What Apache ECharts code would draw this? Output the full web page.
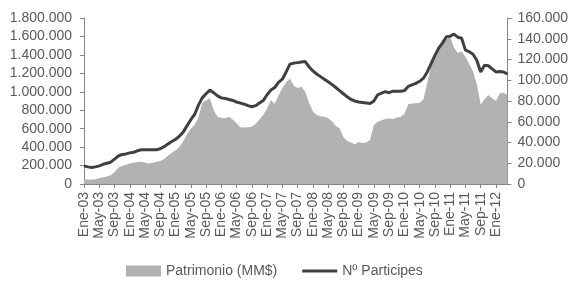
<!DOCTYPE html>
<html>
<head>
<meta charset="utf-8">
<script src="https://cdn.jsdelivr.net/npm/echarts@6/dist/echarts.min.js"></script>
<style>
  html, body { margin: 0; padding: 0; background: #fff; }
  #main { width: 571px; height: 283px; }
</style>
</head>
<body>
<div id="main"></div>
<script>
// months Ene-03 .. Abr-12
const monthNames = ['Ene', 'Feb', 'Mar', 'Abr', 'May', 'Jun', 'Jul', 'Ago', 'Sep', 'Oct', 'Nov', 'Dic'];
const years = ['03', '04', '05', '06', '07', '08', '09', '10', '11', '12'];
const lastYearMonths = 4;

// Patrimonio (MM$), left axis
const patrimonio = [
  50000, 48000, 48000, 52000, 62000, 72000, 80000, 95000, 130000, 175000, 195000, 210000,
  222000, 230000, 238000, 240000, 232000, 222000, 230000, 240000, 250000, 270000, 305000, 340000,
  365000, 400000, 460000, 540000, 600000, 640000, 720000, 880000, 905000, 930000, 800000, 730000,
  715000, 712000, 728000, 700000, 660000, 615000, 612000, 615000, 622000, 650000, 700000, 750000,
  820000, 910000, 870000, 960000, 1040000, 1100000, 1145000, 1065000, 1040000, 1055000, 1000000, 880000,
  790000, 748000, 735000, 730000, 715000, 680000, 630000, 605000, 510000, 465000, 450000, 430000,
  455000, 445000, 450000, 480000, 640000, 675000, 690000, 705000, 712000, 705000, 722000, 730000,
  760000, 865000, 872000, 876000, 880000, 920000, 1100000, 1280000, 1400000, 1470000, 1525000, 1570000,
  1590000, 1480000, 1420000, 1440000, 1380000, 1300000, 1220000, 1080000, 860000, 920000, 965000, 930000,
  900000, 985000, 990000, 965000
];

// Nº Participes, right axis
const participes = [
  17500, 16500, 16000, 16500, 17500, 19000, 20000, 21000, 24000, 27000, 28500, 29000,
  30000, 30500, 32000, 33000, 33000, 33000, 33000, 33000, 34000, 36000, 38500, 41000,
  43000, 46000, 50000, 56000, 62000, 67000, 76000, 83000, 87000, 90500, 88000, 85000,
  83000, 82500, 81500, 80500, 79000, 78000, 77000, 75500, 74500, 75500, 78000, 80500,
  86000, 90500, 93000, 98000, 101000, 108000, 115500, 116500, 117000, 117500, 118000, 113000,
  109000, 106000, 103500, 101000, 98500, 96000, 93000, 90000, 87000, 84000, 81500, 80000,
  79000, 78500, 78000, 77500, 80000, 86000, 87500, 89000, 88000, 89500, 89500, 89500,
  90000, 94000, 95500, 97000, 99000, 102000, 108000, 116000, 124000, 131000, 136000, 142000,
  142500, 144500, 141500, 140500, 129000, 127500, 125000, 119000, 108000, 114500, 114000, 111000,
  108000, 108500, 108000, 106000
];

const categories = [];
years.forEach((y, yi) => {
  const n = yi === years.length - 1 ? lastYearMonths : 12;
  for (let m = 0; m < n; m++) categories.push(monthNames[m] + '-' + y);
});

const chart = echarts.init(document.getElementById('main'));
const font = 'Liberation Sans, Arial, sans-serif';
const textColor = '#595959';
const axisColor = '#868686';

function dots(v) {
  return String(v).replace(/\B(?=(\d{3})+(?!\d))/g, '.');
}

chart.setOption({
  animation: false,
  textStyle: { fontFamily: font },
  grid: { left: 84, right: 63, top: 18, bottom: 99, containLabel: false },
  legend: {
    left: 126,
    top: 264,
    padding: 0,
    itemGap: 25,
    itemWidth: 35,
    itemHeight: 11,
    textStyle: { fontFamily: font, fontSize: 14, color: textColor },
    data: [
      { name: 'Patrimonio (MM$)', icon: 'rect' },
      // thin bar; the extra moveTo points keep the full box height
      { name: 'Nº Participes', icon: 'path://M0,0 M0,11 M0,4 L35,4 L35,7 L0,7 Z' }
    ]
  },
  xAxis: {
    type: 'category',
    data: categories,
    boundaryGap: false,
    axisLine: { lineStyle: { color: axisColor } },
    axisTick: { interval: 3, length: 4, lineStyle: { color: axisColor } },
    axisLabel: {
      interval: 3, rotate: 90, margin: 8,
      fontFamily: font, fontSize: 14, color: textColor
    },
    splitLine: { show: false }
  },
  yAxis: [
    {
      type: 'value', min: 0, max: 1800000, interval: 200000,
      axisLine: { show: true, lineStyle: { color: axisColor } },
      axisTick: { show: true, length: 4, lineStyle: { color: axisColor } },
      axisLabel: { margin: 12, fontFamily: font, fontSize: 14, color: textColor, formatter: dots },
      splitLine: { show: false }
    },
    {
      type: 'value', min: 0, max: 160000, interval: 20000,
      axisLine: { show: true, lineStyle: { color: axisColor } },
      axisTick: { show: true, length: 4, lineStyle: { color: axisColor } },
      axisLabel: { margin: 10, fontFamily: font, fontSize: 14, color: textColor, formatter: dots },
      splitLine: { show: false }
    }
  ],
  series: [
    {
      name: 'Patrimonio (MM$)',
      type: 'line',
      yAxisIndex: 0,
      data: patrimonio,
      symbol: 'none',
      itemStyle: { color: '#b2b2b2' },
      lineStyle: { width: 0 },
      areaStyle: { color: '#b2b2b2', opacity: 1 }
    },
    {
      name: 'Nº Participes',
      type: 'line',
      yAxisIndex: 1,
      data: participes,
      symbol: 'none',
      itemStyle: { color: '#404040' },
      lineStyle: { width: 3, color: '#404040' }
    }
  ]
});

window.addEventListener('resize', () => {
  chart.resize();
});
</script>
</body>
</html>
